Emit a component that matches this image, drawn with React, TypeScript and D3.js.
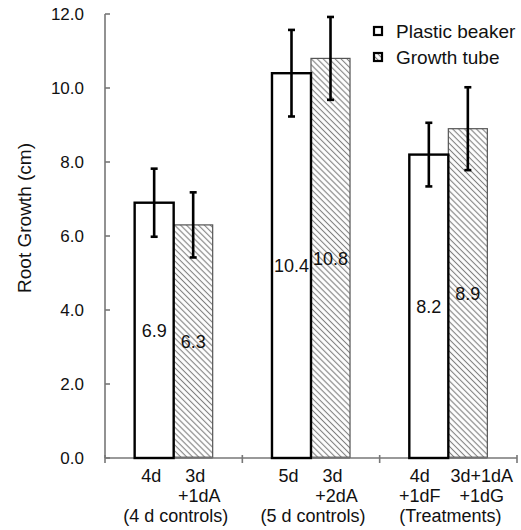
import * as d3 from "d3";

// data
const groups = ["4 d controls", "5 d controls", "Treatments"];
const groupLabels = ["(4 d controls)", "(5 d controls)", "(Treatments)"];
const series = ["Plastic beaker", "Growth tube"];
const beakerValues = [6.9, 10.4, 8.2];
const tubeValues = [6.3, 10.8, 8.9];
const beakerErrors = [0.92, 1.17, 0.86];
const tubeErrors = [0.88, 1.12, 1.12];
const beakerLabels = [["4d"], ["5d"], ["4d", "+1dF"]];
const tubeLabels = [["3d", "+1dA"], ["3d", "+2dA"], ["3d+1dA", "+1dG"]];
const yTicks = [0, 2, 4, 6, 8, 10, 12];

const width = 521;
const height = 530;
const marginLeft = 105;
const marginRight = 4;
const marginTop = 14;
const chartBottomY = 458;
const font = "'Liberation Sans', Arial, sans-serif";
const axisColor = "#777";
const textColor = "#111";

const App = () => {
  const xScale = d3
    .scaleBand()
    .domain(groups)
    .range([marginLeft, width - marginRight])
    .padding(0);
  const xSub = d3
    .scaleBand()
    .domain(series)
    .range([0, xScale.bandwidth()])
    .paddingInner(0)
    .paddingOuter(0.76);
  const yScale = d3.scaleLinear().domain([0, 12]).range([chartBottomY, marginTop]);

  const bars = groups.flatMap((g, i) => [
    { g, s: series[0], v: beakerValues[i], e: beakerErrors[i], lab: beakerLabels[i], nudge: i === 2 ? -9 : -3 },
    { g, s: series[1], v: tubeValues[i], e: tubeErrors[i], lab: tubeLabels[i], nudge: i === 2 ? 14 : 2 },
  ]);
  const bw = xSub.bandwidth();
  const boundaries = [...groups.map((g) => xScale(g)!), xScale.range()[1]];

  return (
    <svg
      width={width}
      height={height}
      viewBox={`0 0 ${width} ${height}`}
      style={{ position: "absolute", left: 0, top: 0, background: "#fff" }}
    >
      <defs>
        <pattern
          id="hatch"
          patternUnits="userSpaceOnUse"
          width={4.2}
          height={4.2}
          patternTransform="rotate(45)"
        >
          <rect width={4.2} height={4.2} fill="#fff" />
          <line x1={0} x2={4.2} y1={2.1} y2={2.1} stroke="#808080" strokeWidth={1.1} />
        </pattern>
      </defs>

      {/* y label */}
      <text
        transform={`translate(31,${(marginTop + chartBottomY) / 2 - 18}) rotate(-90)`}
        textAnchor="middle"
        fontFamily={font}
        fontSize={19}
        fill={textColor}
      >
        Root Growth (cm)
      </text>

      {/* y axis */}
      <line x1={marginLeft} x2={marginLeft} y1={marginTop} y2={chartBottomY} stroke={axisColor} strokeWidth={1.6} />
      {yTicks.map((t) => (
        <g key={t}>
          <line
            x1={marginLeft}
            x2={marginLeft + 5}
            y1={yScale(t)}
            y2={yScale(t)}
            stroke={axisColor}
            strokeWidth={1.6}
          />
          <text
            x={marginLeft - 21}
            y={yScale(t)}
            dy="0.35em"
            textAnchor="end"
            fontFamily={font}
            fontSize={17}
            fill={textColor}
          >
            {t.toFixed(1)}
          </text>
        </g>
      ))}

      {/* x axis */}
      <line
        x1={marginLeft}
        x2={xScale.range()[1]}
        y1={chartBottomY}
        y2={chartBottomY}
        stroke={axisColor}
        strokeWidth={1.6}
      />
      {boundaries.map((bx, i) => (
        <line key={i} x1={bx} x2={bx} y1={chartBottomY - 3} y2={chartBottomY + 5} stroke={axisColor} strokeWidth={1.6} />
      ))}

      {/* hatched bars first, then plain bars so the shared edge stays black */}
      {[series[1], series[0]].map((s) =>
        bars
          .filter((b) => b.s === s)
          .map((b, i) => {
            const x = xScale(b.g)! + xSub(b.s)!;
            const y = yScale(b.v);
            const hatched = b.s === series[1];
            return (
              <rect
                key={s + i}
                x={x}
                y={y}
                width={bw}
                height={chartBottomY - y - (hatched ? 0.8 : 0)}
                fill={hatched ? "url(#hatch)" : "#fff"}
                stroke={hatched ? "#555" : "#000"}
                strokeWidth={hatched ? 1.2 : 2.4}
              />
            );
          })
      )}
      {/* redraw the axis under the hatched bars */}
      {bars
        .filter((b) => b.s === series[1])
        .map((b, i) => {
          const x = xScale(b.g)! + xSub(b.s)!;
          return (
            <line
              key={i}
              x1={x + 1.2}
              x2={x + bw}
              y1={chartBottomY}
              y2={chartBottomY}
              stroke={axisColor}
              strokeWidth={1.6}
            />
          );
        })}

      {/* value labels */}
      {bars.map((b, i) => {
        const x = xScale(b.g)! + xSub(b.s)! + bw / 2;
        const y = (yScale(b.v) + chartBottomY) / 2;
        return (
          <text
            key={i}
            x={x}
            y={y}
            dy="0.35em"
            textAnchor="middle"
            fontFamily={font}
            fontSize={18}
            fill={textColor}
          >
            {b.v.toFixed(1)}
          </text>
        );
      })}

      {/* error bars */}
      {bars.map((b, i) => {
        const cx = xScale(b.g)! + xSub(b.s)! + bw / 2;
        const y1 = yScale(b.v + b.e);
        const y2 = yScale(b.v - b.e);
        return (
          <g key={i} stroke="#000" strokeWidth={2.6}>
            <line x1={cx} x2={cx} y1={y1} y2={y2} />
            <line x1={cx - 3.5} x2={cx + 3.5} y1={y1} y2={y1} />
            <line x1={cx - 3.5} x2={cx + 3.5} y1={y2} y2={y2} />
          </g>
        );
      })}

      {/* category labels */}
      {bars.map((b, i) => {
        const cx = xScale(b.g)! + xSub(b.s)! + bw / 2 + b.nudge;
        return (
          <text key={i} textAnchor="middle" fontFamily={font} fontSize={18} fill={textColor}>
            {b.lab.map((l, j) => (
              <tspan key={j} x={cx + (j === 1 && i % 2 === 1 && i < 4 ? 4 : 0)} y={482 + j * 20}>
                {l}
              </tspan>
            ))}
          </text>
        );
      })}
      {groups.map((g, i) => (
        <text
          key={g}
          x={xScale(g)! + xScale.bandwidth() / 2 + 2}
          y={522}
          textAnchor="middle"
          fontFamily={font}
          fontSize={18}
          fill={textColor}
        >
          {groupLabels[i]}
        </text>
      ))}

      {/* legend */}
      {series.map((s, i) => (
        <g key={s} transform={`translate(374,${27 + i * 26})`}>
          <rect
            x={0}
            y={0}
            width={8}
            height={8}
            fill={i === 0 ? "#fff" : "url(#hatch)"}
            stroke="#000"
            strokeWidth={2.2}
          />
          <text x={22} y={4} dy="0.36em" fontFamily={font} fontSize={19} fill={textColor}>
            {s}
          </text>
        </g>
      ))}
    </svg>
  );
};

export default App;
